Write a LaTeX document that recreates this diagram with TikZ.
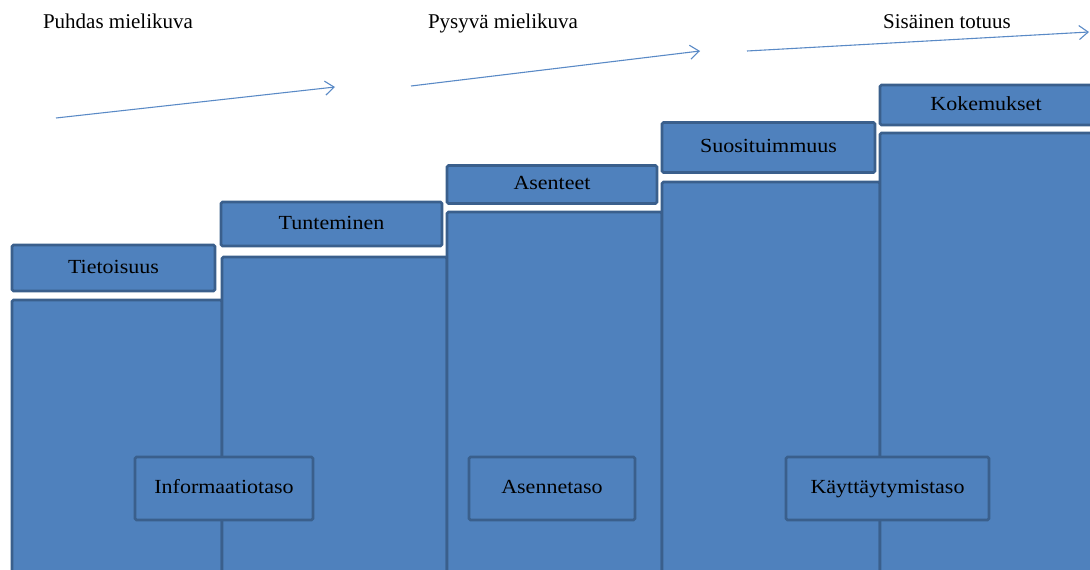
\documentclass[tikz,border=0pt]{standalone}
\usepackage{fontspec}
\setmainfont{Liberation Serif}
\newfontfamily\labelfont[FakeStretch=1.1]{Liberation Serif}
\usetikzlibrary{arrows.meta}
\definecolor{fillblue}{HTML}{4F81BD}
\definecolor{edgeblue}{HTML}{3A5F8C}
\definecolor{arrowblue}{HTML}{5A8AC6}
\tikzset{
  colbox/.style={draw=edgeblue, fill=fillblue, line width=2.6pt, rounded corners=1.5pt},
  labelbox/.style={colbox, inner sep=0pt, text height=14pt, text depth=4pt, font=\labelfont\fontsize{20}{24}\selectfont, text=black},
  toptext/.style={font=\fontsize{21}{25}\selectfont, text=black, inner sep=0pt},
  flowarrow/.style={draw=arrowblue, line width=1.1pt, -{Straight Barb[length=9pt,width=14pt,line width=1.1pt]}}
}
\begin{document}
\begin{tikzpicture}[x=1pt,y=-1pt]
\useasboundingbox (0,0) rectangle (1090,570);
\clip (0,0) rectangle (1090,570);
% tall columns
\draw[colbox] (12,300) rectangle (222,580);
\draw[colbox] (222,257) rectangle (447,580);
\draw[colbox] (447,212) rectangle (662,580);
\draw[colbox] (662,182) rectangle (880,580);
\draw[colbox] (880,133) rectangle (1092,580);
% top label boxes
\node[labelbox, minimum width=203pt, minimum height=46pt] (tieto) at (113.5,268) {Tietoisuus};
\node[labelbox, minimum width=221pt, minimum height=44pt] (tunte) at (331.5,224) {Tunteminen};
\node[labelbox, minimum width=210pt, minimum height=38pt] (asent) at (552,184.5) {Asenteet};
\node[labelbox, minimum width=213pt, minimum height=50pt] (suosi) at (768.5,147.5) {Suosituimmuus};
\node[labelbox, minimum width=212pt, minimum height=40pt] (kokem) at (986,105) {Kokemukset};
% level boxes
\node[labelbox, minimum width=178pt, minimum height=63pt] (info) at (224,488.5) {Informaatiotaso};
\node[labelbox, minimum width=166pt, minimum height=63pt] (asenne) at (552,488.5) {Asennetaso};
\node[labelbox, minimum width=203pt, minimum height=63pt] (kaytt) at (887.5,488.5) {Käyttäytymistaso};
% top texts
\node[toptext, anchor=base] (puhdas) at (118,28) {Puhdas mielikuva};
\node[toptext, anchor=base] (pysyva) at (503,28) {Pysyvä mielikuva};
\node[toptext, anchor=base] (sisainen) at (947,28) {Sisäinen totuus};
% arrows
\coordinate (a1s) at (56,118);
\coordinate (a1e) at (335,87);
\coordinate (a2s) at (411,86);
\coordinate (a2e) at (700,51);
\coordinate (a3s) at (747,51);
\coordinate (a3e) at (1089,32);
\draw[flowarrow] (a1s) -- (a1e);
\draw[flowarrow] (a2s) -- (a2e);
\draw[flowarrow] (a3s) -- (a3e);
\end{tikzpicture}
\end{document}
